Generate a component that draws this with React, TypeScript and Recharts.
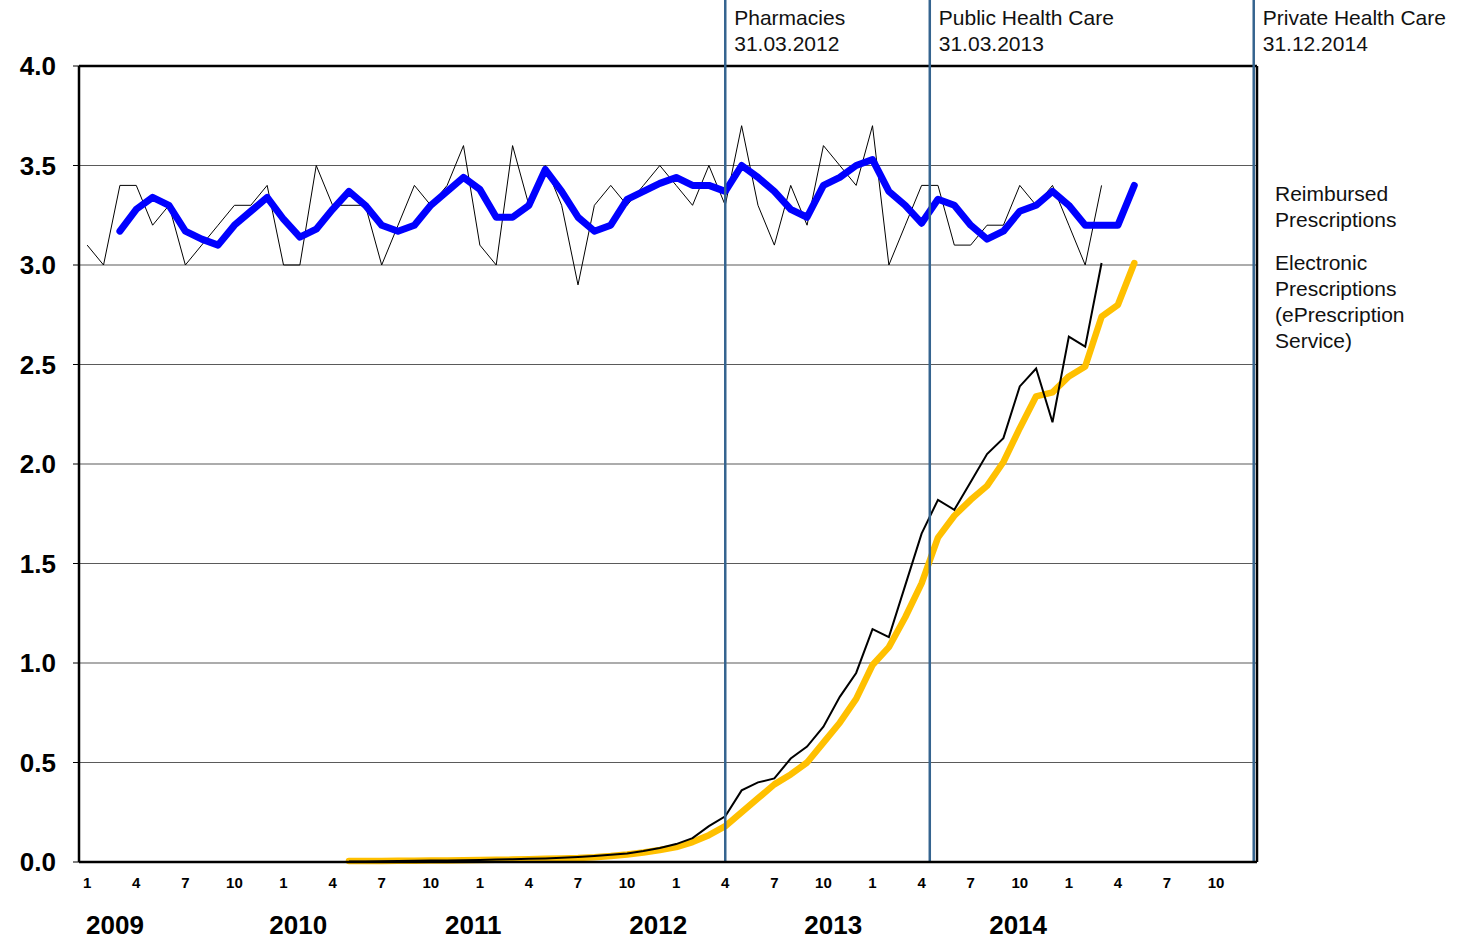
import React from "react";
import {
  LineChart,
  Line,
  XAxis,
  YAxis,
  CartesianGrid,
  ReferenceLine,
} from "recharts";

// ---- categories ----
const FIRST_YEAR = 2009;
const MONTH_COUNT = 72; // Jan 2009 .. Dec 2014
const yearLabels = ["2009", "2010", "2011", "2012", "2013", "2014"];
// where the (freely placed) year captions sit, in month units
const yearLabelPos = [1.7, 12.9, 23.6, 34.9, 45.6, 56.9];
const monthLabelStep = 3;

// ---- series (million prescriptions per month) ----
const REIMB_START = 0; // Jan 2009
const reimbursedMonthly = [
  3.1, 3.0, 3.4, 3.4, 3.2, 3.3, 3.0, 3.1, 3.2, 3.3, 3.3, 3.4,
  3.0, 3.0, 3.5, 3.3, 3.3, 3.3, 3.0, 3.2, 3.4, 3.3, 3.4, 3.6,
  3.1, 3.0, 3.6, 3.3, 3.5, 3.3, 2.9, 3.3, 3.4, 3.3, 3.4, 3.5,
  3.4, 3.3, 3.5, 3.3, 3.7, 3.3, 3.1, 3.4, 3.2, 3.6, 3.5, 3.4,
  3.7, 3.0, 3.2, 3.4, 3.4, 3.1, 3.1, 3.2, 3.2, 3.4, 3.3, 3.4,
  3.2, 3.0, 3.4,
];

const REIMB_TREND_START = 2; // Mar 2009
const reimbursedTrend = [
  3.17, 3.28, 3.34, 3.3, 3.17, 3.13, 3.1, 3.2, 3.27, 3.34,
  3.23, 3.14, 3.18, 3.28, 3.37, 3.3, 3.2, 3.17, 3.2, 3.3, 3.37, 3.44,
  3.38, 3.24, 3.24, 3.3, 3.48, 3.37, 3.24, 3.17, 3.2, 3.33, 3.37, 3.41,
  3.44, 3.4, 3.4, 3.37, 3.5, 3.44, 3.37, 3.28, 3.24, 3.4, 3.44, 3.5,
  3.53, 3.37, 3.3, 3.21, 3.33, 3.3, 3.2, 3.13, 3.17, 3.27, 3.3, 3.37,
  3.3, 3.2, 3.2, 3.2, 3.4,
];

const EPRES_START = 16; // May 2010
const electronicMonthly = [
  0.002, 0.003, 0.004, 0.005, 0.006, 0.007, 0.008, 0.009, 0.01, 0.012, 0.014,
  0.016, 0.018, 0.021, 0.025, 0.03, 0.036, 0.043, 0.055, 0.07, 0.09, 0.12,
  0.18, 0.23, 0.36, 0.4, 0.42, 0.52, 0.58, 0.68, 0.83, 0.95, 1.17, 1.13, 1.39,
  1.65, 1.82, 1.77, 1.91, 2.05, 2.13, 2.39, 2.48, 2.21, 2.64, 2.59, 3.01,
];

const EPRES_TREND_START = 16;
const electronicTrend = [
  0.005, 0.005, 0.005, 0.006, 0.006, 0.007, 0.008, 0.009, 0.01, 0.011, 0.012,
  0.014, 0.016, 0.018, 0.02, 0.024, 0.03, 0.038, 0.048, 0.06, 0.075, 0.1,
  0.135, 0.18, 0.25, 0.32, 0.39, 0.44, 0.5, 0.6, 0.7, 0.82, 0.99, 1.08, 1.23,
  1.4, 1.63, 1.74, 1.82, 1.89, 2.01, 2.18, 2.34, 2.36, 2.44, 2.49, 2.74, 2.8,
  3.01,
];

// ---- milestones (month units) ----
const milestoneNames = ["Pharmacies", "Public Health Care", "Private Health Care"];
const milestoneDates = ["31.03.2012", "31.03.2013", "31.12.2014"];
const milestonePos = [39, 51.5, 71.3];

const yTicks = [0, 0.5, 1, 1.5, 2, 2.5, 3, 3.5, 4];
const Y_PAGE_TOP = 4.332; // value at the very top of the picture

const legendGroups = [
  ["Reimbursed", "Prescriptions"],
  ["Electronic", "Prescriptions", "(ePrescription", "Service)"],
];

const FONT = '"Liberation Sans", Arial, Helvetica, sans-serif';

const pick = (arr: number[], start: number, i: number) => {
  const v = arr[i - start];
  return v === undefined ? null : v;
};

const rows = Array.from({ length: MONTH_COUNT }, (_, i) => ({
  m: i,
  reimb: pick(reimbursedMonthly, REIMB_START, i),
  reimbTrend: pick(reimbursedTrend, REIMB_TREND_START, i),
  epres: pick(electronicMonthly, EPRES_START, i),
  epresTrend: pick(electronicTrend, EPRES_TREND_START, i),
}));

const boundaryTicks = Array.from({ length: MONTH_COUNT + 1 }, (_, i) => i - 0.5);
const monthTicks = Array.from({ length: MONTH_COUNT / monthLabelStep }, (_, i) => i * monthLabelStep);

const MarkerLabel = (props: any) => {
  const { viewBox, lines } = props;
  if (!viewBox) return null;
  const x = viewBox.x + 9;
  const y = viewBox.y;
  return (
    <g>
      {lines.map((t: string, k: number) => (
        <text key={k} x={x} y={y + 25 + 26 * k} fontSize={21} fontFamily={FONT} fill="#111">
          {t}
        </text>
      ))}
    </g>
  );
};

const LegendText = () => (
  <div
    style={{
      position: "absolute",
      left: 1275,
      top: 181,
      width: 190,
      fontFamily: FONT,
      fontSize: 21,
      lineHeight: "26px",
      color: "#111",
    }}
  >
    {legendGroups.map((g, k) => (
      <div key={k} style={{ marginBottom: 17 }}>
        {g.map((t, j) => (
          <div key={j}>{t}</div>
        ))}
      </div>
    ))}
  </div>
);

export default function App() {
  return (
    <div style={{ position: "absolute", left: 0, top: 0, width: 1466, height: 940, background: "#fff" }}>
      <LineChart
        width={1466}
        height={940}
        data={rows}
        margin={{ top: 66, right: 209, bottom: 0, left: 0 }}
      >
        <CartesianGrid vertical={false} stroke="#5a5a5a" strokeWidth={1.2} xAxisId="a_tick" />
        <XAxis
          xAxisId="a_tick"
          dataKey="m"
          type="number"
          domain={[-0.5, MONTH_COUNT - 0.5]}
          ticks={boundaryTicks}
          interval={0}
          tick={false}
          tickLine={{ stroke: "#000", strokeWidth: 1 }}
          tickSize={6}
          height={8}
          axisLine={{ stroke: "#000", strokeWidth: 2.5 }}
        />
        <XAxis
          xAxisId="b_mon"
          dataKey="m"
          type="number"
          domain={[-0.5, MONTH_COUNT - 0.5]}
          ticks={monthTicks}
          interval={0}
          tickFormatter={(v: number) => String((v % 12) + 1)}
          axisLine={false}
          tickLine={false}
          tickSize={0}
          tickMargin={7}
          height={30}
          tick={{ fontFamily: FONT, fontSize: 15, fontWeight: "bold", fill: "#000" }}
        />
        <XAxis
          xAxisId="c_year"
          dataKey="m"
          type="number"
          domain={[-0.5, MONTH_COUNT - 0.5]}
          ticks={yearLabelPos}
          interval={0}
          tickFormatter={(v: number) => yearLabels[yearLabelPos.indexOf(v)] ?? String(FIRST_YEAR)}
          axisLine={false}
          tickLine={false}
          tickSize={0}
          tickMargin={16}
          height={40}
          tick={{ fontFamily: FONT, fontSize: 26, fontWeight: "bold", fill: "#000" }}
        />
        <YAxis
          domain={[0, 4]}
          ticks={yTicks}
          interval={0}
          width={79}
          tickFormatter={(v: number) => v.toFixed(1)}
          axisLine={{ stroke: "#000", strokeWidth: 2.5 }}
          tickLine={{ stroke: "#000" }}
          tickSize={6}
          tickMargin={17}
          tick={{ fontFamily: FONT, fontSize: 26, fontWeight: "bold", fill: "#000" }}
        />
        <ReferenceLine xAxisId="a_tick" y={4} stroke="#000" strokeWidth={2.5} />
        <ReferenceLine xAxisId="a_tick" x={MONTH_COUNT - 0.5} stroke="#000" strokeWidth={2.5} />

        <Line
          xAxisId="a_tick"
          dataKey="epresTrend"
          stroke="#FFC000"
          strokeWidth={6.5}
          strokeLinecap="round"
          strokeLinejoin="round"
          dot={false}
          isAnimationActive={false}
        />
        <Line
          xAxisId="a_tick"
          dataKey="epres"
          stroke="#000"
          strokeWidth={2}
          dot={false}
          isAnimationActive={false}
        />
        <Line
          xAxisId="a_tick"
          dataKey="reimb"
          stroke="#000"
          strokeWidth={1}
          dot={false}
          isAnimationActive={false}
        />
        <Line
          xAxisId="a_tick"
          dataKey="reimbTrend"
          stroke="#0000FF"
          strokeWidth={7}
          strokeLinecap="round"
          strokeLinejoin="round"
          dot={false}
          isAnimationActive={false}
        />

        {milestonePos.map((p, k) => (
          <ReferenceLine
            key={k}
            xAxisId="a_tick"
            segment={[
              { x: p, y: 0 },
              { x: p, y: Y_PAGE_TOP },
            ]}
            ifOverflow="visible"
            stroke="#35648F"
            strokeWidth={2.5}
            label={<MarkerLabel lines={[milestoneNames[k], milestoneDates[k]]} />}
          />
        ))}
      </LineChart>
      <LegendText />
    </div>
  );
}
